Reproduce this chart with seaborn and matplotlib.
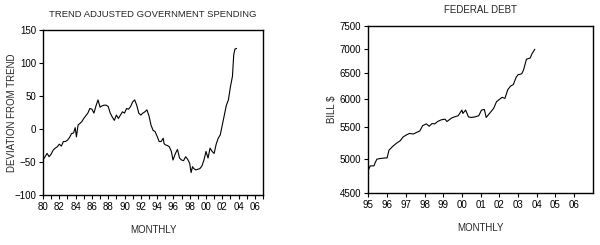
import matplotlib
matplotlib.use("Agg")
import matplotlib.pyplot as plt
import matplotlib.ticker as mticker
import seaborn as sns
import pandas as pd
import numpy as np

# ---- Data: trend adjusted government spending (deviation from trend) ----
spend_t = [1980.0, 1980.25, 1980.5, 1980.75, 1981.0, 1981.25, 1981.5, 1981.75,
           1982.0, 1982.25, 1982.5, 1982.75, 1983.0, 1983.25, 1983.5, 1983.75,
           1983.95, 1984.1, 1984.3, 1984.5, 1984.75, 1985.0, 1985.25, 1985.5,
           1985.75, 1986.0, 1986.25, 1986.5, 1986.75, 1987.0, 1987.25, 1987.5,
           1987.75, 1988.0, 1988.25, 1988.5, 1988.75, 1989.0, 1989.25, 1989.5,
           1989.75, 1990.0, 1990.25, 1990.5, 1990.75, 1991.0, 1991.25, 1991.5,
           1991.75, 1992.0, 1992.25, 1992.5, 1992.75, 1993.0, 1993.25, 1993.5,
           1993.75, 1994.0, 1994.25, 1994.5, 1994.75, 1994.85, 1995.0, 1995.25,
           1995.5, 1995.75, 1995.95, 1996.25, 1996.5, 1996.75, 1997.0, 1997.25,
           1997.5, 1997.75, 1998.0, 1998.17, 1998.35, 1998.5, 1998.75, 1999.0,
           1999.25, 1999.5, 1999.75, 2000.0, 2000.25, 2000.5, 2000.75, 2001.0,
           2001.25, 2001.5, 2001.75, 2002.0, 2002.25, 2002.5, 2002.75, 2003.0,
           2003.25, 2003.4, 2003.55, 2003.75]
spend_v = [-47, -42, -37, -42, -38, -32, -29, -27,
           -23, -26, -19, -19, -17, -13, -7, -6,
           2, -12, 6, 8, 11, 16, 20, 24,
           31, 30, 24, 35, 44, 33, 35, 36,
           36, 34, 24, 18, 13, 21, 16, 21,
           26, 24, 31, 30, 34, 41, 44, 36,
           24, 21, 24, 26, 29, 20, 6, -2,
           -4, -11, -19, -19, -14, -22, -24, -25,
           -27, -34, -47, -37, -31, -44, -47, -48,
           -42, -46, -52, -66, -57, -60, -62, -61,
           -60, -56, -47, -34, -44, -29, -34, -37,
           -23, -14, -9, 6, 21, 36, 44, 64,
           80, 112, 121, 122]

# ---- Data: federal debt, billions of dollars ----
debt_t = [1995.0, 1995.1, 1995.3, 1995.35, 1995.45, 1995.6, 1995.9, 1996.0,
          1996.1, 1996.3, 1996.5, 1996.7, 1996.85, 1997.0, 1997.2, 1997.4,
          1997.6, 1997.75, 1997.9, 1998.1, 1998.25, 1998.4, 1998.55, 1998.7,
          1998.9, 1999.1, 1999.2, 1999.45, 1999.6, 1999.8, 2000.0, 2000.05,
          2000.2, 2000.35, 2000.5, 2000.7, 2000.9, 2001.05, 2001.2, 2001.3,
          2001.5, 2001.7, 2001.85, 2002.0, 2002.15, 2002.3, 2002.45, 2002.6,
          2002.75, 2002.9, 2003.0, 2003.2, 2003.3, 2003.45, 2003.65, 2003.75,
          2003.9]
debt_v = [4830, 4890, 4890, 4930, 4990, 5000, 5010, 5010,
          5130, 5190, 5240, 5280, 5340, 5370, 5400, 5390,
          5420, 5440, 5530, 5560, 5520, 5565, 5560, 5600,
          5630, 5640, 5600, 5660, 5680, 5700, 5800, 5740,
          5800, 5680, 5670, 5680, 5700, 5800, 5810, 5670,
          5750, 5830, 5950, 5990, 6030, 6010, 6170, 6240,
          6270, 6410, 6460, 6480, 6560, 6775, 6800, 6890,
          6985]

spend_ticks = list(range(1980, 2007, 2))
spend_tick_labels = ["80", "82", "84", "86", "88", "90", "92", "94", "96",
                     "98", "00", "02", "04", "06"]
debt_ticks = list(range(1995, 2007))
debt_tick_labels = ["95", "96", "97", "98", "99", "00", "01", "02", "03",
                    "04", "05", "06"]
debt_yticks = [4500, 5000, 5500, 6000, 6500, 7000, 7500]

sns.set_style("ticks")
plt.rcParams["font.family"] = ["Liberation Sans", "DejaVu Sans"]
plt.rcParams["axes.linewidth"] = 1.0

fs = 7
fig = plt.figure(figsize=(6.0, 2.45), dpi=100)
ax1 = fig.add_axes([0.0717, 0.204, 0.3667, 0.674])
ax2 = fig.add_axes([0.614, 0.212, 0.374, 0.682])

df1 = pd.DataFrame({"t": spend_t, "v": spend_v})
df2 = pd.DataFrame({"t": debt_t, "v": debt_v})

sns.lineplot(data=df1, x="t", y="v", ax=ax1, color="black", linewidth=0.8)
sns.lineplot(data=df2, x="t", y="v", ax=ax2, color="black", linewidth=0.8)

# Left chart
ax1.set_xlim(1980, 2007)
ax1.set_ylim(-100, 150)
ax1.set_xticks(list(range(1980, 2008)), minor=True)
ax1.set_xticks(spend_ticks)
ax1.set_xticklabels(spend_tick_labels)
ax1.set_yticks([-100, -50, 0, 50, 100, 150])
ax1.set_title("TREND ADJUSTED GOVERNMENT SPENDING", fontsize=6.8, pad=9)
ax1.set_xlabel("MONTHLY", fontsize=fs, labelpad=9.5)
ax1.set_ylabel("DEVIATION FROM TREND", fontsize=fs)
ax1.yaxis.set_label_coords(-0.118, 0.5)

# Right chart (log scale)
ax2.set_yscale("log")
ax2.set_xlim(1995, 2007)
ax2.set_ylim(4500, 7500)
ax2.set_xticks(debt_ticks)
ax2.set_xticklabels(debt_tick_labels)
ax2.yaxis.set_minor_locator(mticker.NullLocator())
ax2.set_yticks(debt_yticks)
ax2.yaxis.set_major_formatter(mticker.FixedFormatter([str(v) for v in debt_yticks]))
ax2.set_title("FEDERAL DEBT", fontsize=fs, pad=9)
ax2.set_xlabel("MONTHLY", fontsize=fs, labelpad=9.5)
ax2.set_ylabel("BILL $", fontsize=fs)
ax2.yaxis.set_label_coords(-0.139, 0.5)

for ax in (ax1, ax2):
    for s in ax.spines.values():
        s.set_visible(True)
        s.set_color("black")
        s.set_linewidth(1.0)
    ax.tick_params(axis="both", which="major", direction="out", length=3,
                   width=0.8, labelsize=fs, pad=2, colors="black")
    ax.tick_params(axis="both", which="minor", direction="out", length=3,
                   width=0.8, colors="black")

fig.savefig("out.png", dpi=100, facecolor="white")
